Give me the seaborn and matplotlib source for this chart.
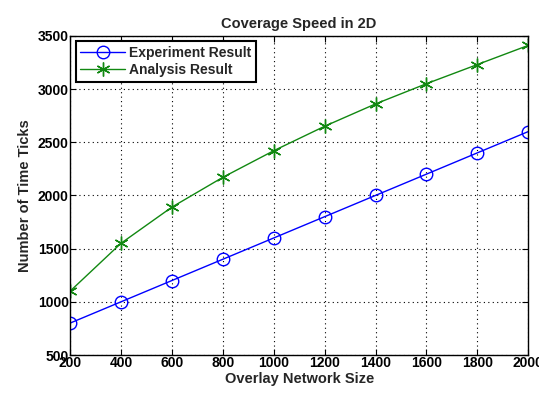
import matplotlib
matplotlib.use("Agg")
import matplotlib.pyplot as plt
import seaborn as sns
import pandas as pd

sizes = [200, 400, 600, 800, 1000, 1200, 1400, 1600, 1800, 2000]
experiment = [800, 1000, 1200, 1400, 1600, 1800, 2000, 2200, 2400, 2600]
analysis = [1100, 1550, 1890, 2170, 2420, 2650, 2860, 3050, 3230, 3410]
series_names = ["Experiment Result", "Analysis Result"]
x_ticks = [200, 400, 600, 800, 1000, 1200, 1400, 1600, 1800, 2000]
y_ticks = [500, 1000, 1500, 2000, 2500, 3000, 3500]

sns.set_style("ticks")
plt.rcParams['font.family'] = ['Liberation Sans', 'DejaVu Sans']
plt.rcParams['font.weight'] = 'bold'

fig = plt.figure(figsize=(5.39, 3.96), dpi=100)
ax = fig.add_axes([0.130, 0.1035, 0.850, 0.806])

sns.lineplot(x=sizes, y=experiment, ax=ax, color="#0000ff", marker="o",
             markersize=9, markerfacecolor="none", markeredgecolor="#0000ff",
             markeredgewidth=1.0, linewidth=1.0, label=series_names[0])
sns.lineplot(x=sizes, y=analysis, ax=ax, color="#118811", marker=(6, 2, 0),
             markersize=10, markeredgecolor="#118811",
             markeredgewidth=1.0, linewidth=1.0, label=series_names[1])

ax.set_xlim(200, 2000)
ax.set_ylim(500, 3500)
ax.set_xticks(x_ticks)
ax.set_yticks(y_ticks)
ax.set_xticklabels([str(t) for t in x_ticks], fontsize=10, fontweight="bold")
ax.set_yticklabels([str(t) for t in y_ticks], fontsize=10, fontweight="bold")
ax.tick_params(direction="in", length=4, width=0.8, pad=1, top=True, right=True, colors="black")
ax.grid(True, linestyle=(0, (1, 3)), color="black", linewidth=0.8)
for sp in ax.spines.values():
    sp.set_color("black")
    sp.set_linewidth(1.0)

ax.set_xlabel("Overlay Network Size", fontsize=10.5, fontweight="bold", labelpad=1)
ax.set_ylabel("Number of Time Ticks", fontsize=10.5, fontweight="bold", labelpad=4)
ax.set_title("Coverage Speed in 2D", fontsize=10.5, fontweight="bold", pad=6)

leg = ax.legend(loc="upper left", fontsize=10, frameon=True, fancybox=False,
                edgecolor="black", borderaxespad=0.4, handlelength=3.2,
                borderpad=0.35, labelspacing=0.2, handletextpad=0.3)
leg.get_frame().set_linewidth(1.5)
leg.get_frame().set_alpha(1)
for t in leg.get_texts():
    t.set_fontweight("bold")

fig.savefig("out.png", dpi=100)
